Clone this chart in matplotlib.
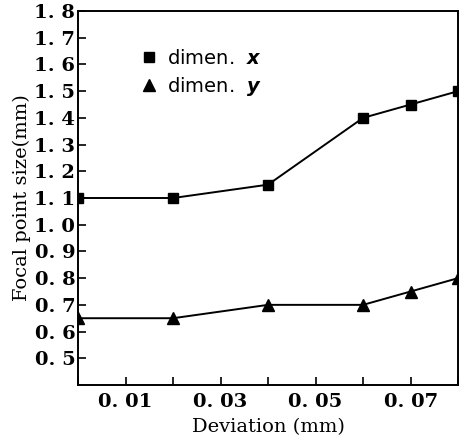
import matplotlib
matplotlib.use("Agg")
import matplotlib.pyplot as plt
from matplotlib.lines import Line2D

# data
deviation = [0.0, 0.02, 0.04, 0.06, 0.07, 0.08]
dim_x = [1.10, 1.10, 1.15, 1.40, 1.45, 1.50]
dim_y = [0.65, 0.65, 0.70, 0.70, 0.75, 0.80]

x_ticks = [0.0, 0.01, 0.02, 0.03, 0.04, 0.05, 0.06, 0.07, 0.08]
x_labeled = [0.01, 0.03, 0.05, 0.07]
y_ticks = [0.5, 0.6, 0.7, 0.8, 0.9, 1.0, 1.1, 1.2, 1.3, 1.4, 1.5, 1.6, 1.7, 1.8]

plt.rcParams["font.family"] = ["DejaVu Serif"]

fig = plt.figure(figsize=(4.59, 4.41), dpi=100)
ax = fig.add_axes([0.170, 0.127, 0.828, 0.848])

ax.plot(deviation, dim_x, color="black", linewidth=1.4, marker="s", markersize=7)
ax.plot(deviation, dim_y, color="black", linewidth=1.4, marker="^", markersize=8)

ax.set_xlim(0.0, 0.08)
ax.set_ylim(0.4, 1.8)

ax.set_xticks(x_ticks)
ax.set_xticklabels([f"{v:.2f}".replace(".", ". ") if v in x_labeled else "" for v in x_ticks])
ax.set_yticks(y_ticks)
ax.set_yticklabels([f"{v:.1f}".replace(".", ". ") for v in y_ticks])

ax.tick_params(direction="in", length=6, width=1.2, labelsize=14)
ax.tick_params(axis="x", pad=6)
ax.tick_params(axis="y", pad=2)
for lab in ax.get_xticklabels() + ax.get_yticklabels():
    lab.set_fontweight("bold")
for sp in ax.spines.values():
    sp.set_linewidth(1.4)

ax.set_xlabel("Deviation (mm)", fontsize=14, labelpad=5)
ax.set_ylabel("Focal point size(mm)", fontsize=14, labelpad=2)

handles = [
    Line2D([], [], color="black", marker="s", linestyle="none", markersize=7),
    Line2D([], [], color="black", marker="^", linestyle="none", markersize=8),
]
ax.legend(handles, [r"dimen.  $\mathbfit{x}$", r"dimen.  $\mathbfit{y}$"],
          loc="upper left", bbox_to_anchor=(0.11, 0.945), frameon=False,
          prop={"family": "DejaVu Sans", "size": 14}, handletextpad=0.3,
          labelspacing=0.35, handlelength=1.2)

fig.savefig("out.png", dpi=100)
